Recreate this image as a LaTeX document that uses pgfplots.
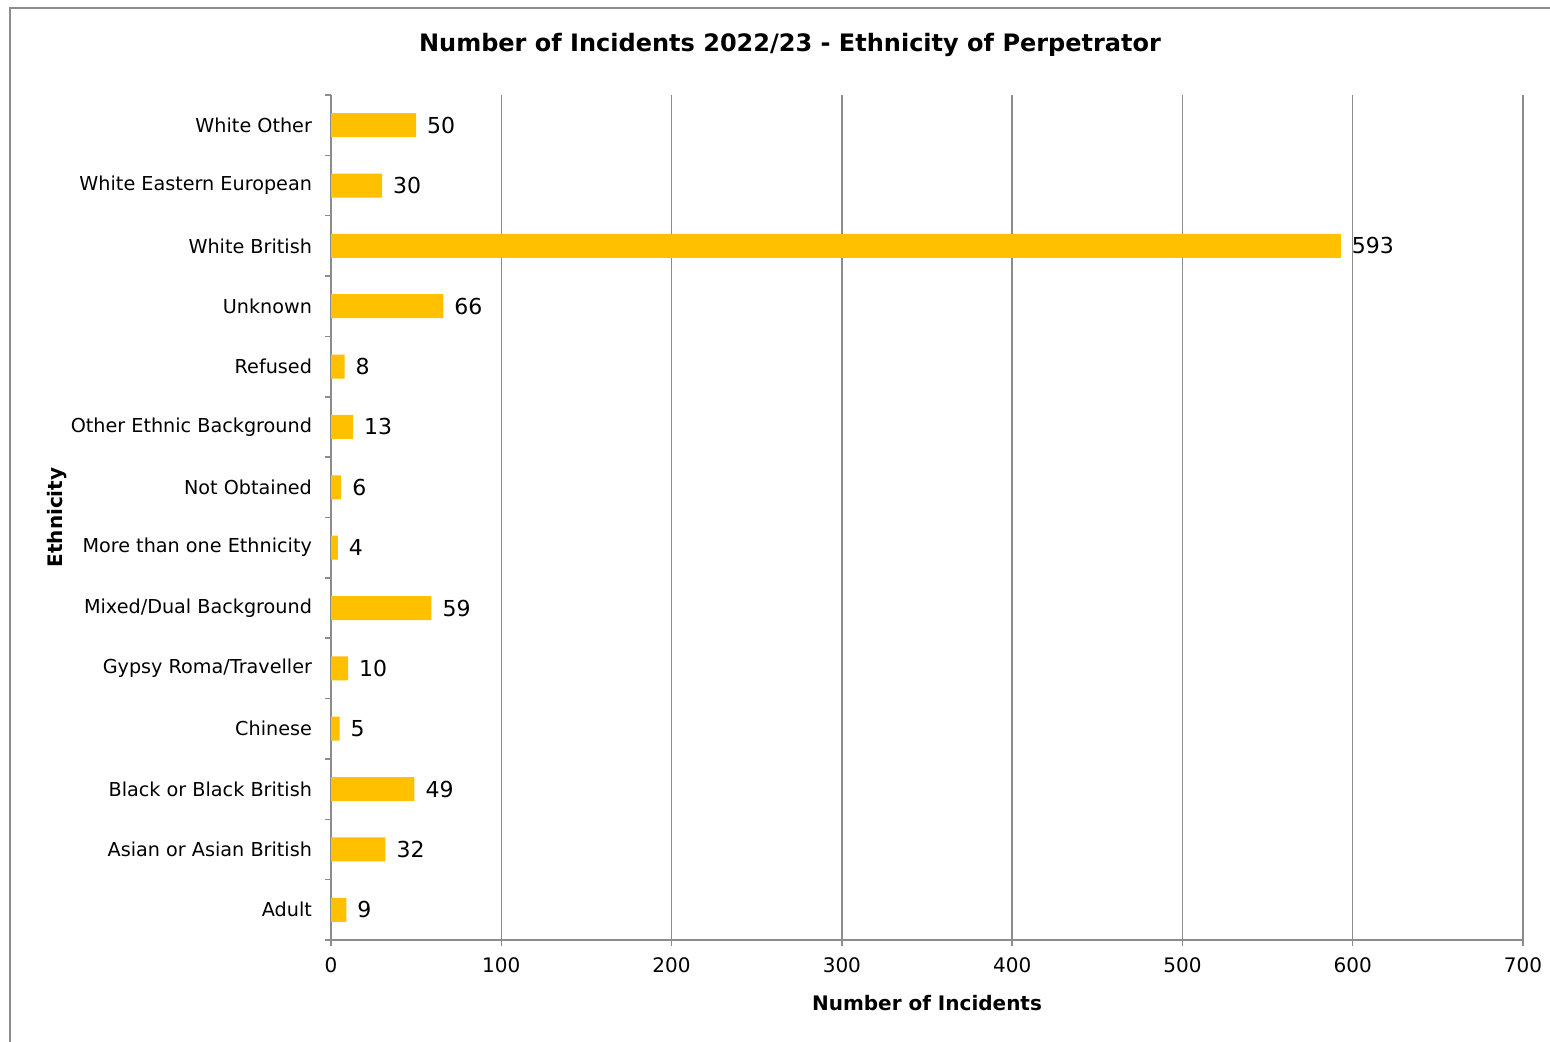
\documentclass[border=0pt]{standalone}
\usepackage{pgfplots}
\pgfplotsset{compat=1.18}
\usepackage{fontspec}
\setmainfont{DejaVu Sans}
\definecolor{baryellow}{HTML}{FFC000}
\definecolor{gridgray}{HTML}{8C8C8C}
\begin{document}
\begin{tikzpicture}[x=0.5pt,y=0.5pt]
\useasboundingbox (0,0) rectangle (1550,1042);
\draw[gridgray, line width=1pt] (10,-5) -- (10,1034) -- (1560,1034);
\node[font=\bfseries\fontsize{12}{14}\selectfont] at (790,997) {Number of Incidents 2022/23 - Ethnicity of Perpetrator};
\begin{axis}[
  at={(165.5pt,51pt)}, anchor=south west,
  scale only axis, width=596pt, height=422.5pt,
  xbar, bar width=12pt,
  xmin=0, xmax=700, ymin=-0.5, ymax=13.5,
  xtick={0,100,...,700},
  ytick={0,...,13},
  yticklabels={Adult,Asian or Asian British,Black or Black British,Chinese,Gypsy Roma/Traveller,Mixed/Dual Background,More than one Ethnicity,Not Obtained,Other Ethnic Background,Refused,Unknown,White British,White Eastern European,White Other},
  minor ytick={-0.5,0.5,...,13.5},
  axis x line*=bottom, axis y line*=left,
  axis line style={gridgray, line width=0.75pt, -},
  xmajorgrids, major grid style={gridgray, line width=0.75pt},
  tick align=outside,
  tick style={gridgray, line width=0.75pt},
  major tick length=3pt, minor tick length=3pt,
  ytick style={draw=none},
  minor y tick style={draw=gridgray},
  xticklabel style={font=\fontsize{10}{12}\selectfont, yshift=-2.5pt},
  yticklabel style={font=\fontsize{9.6}{12}\selectfont, xshift=-3pt},
  /pgf/number format/assume math mode=true,
  xlabel={\bfseries Number of Incidents},
  ylabel={\bfseries Ethnicity},
  label style={font=\bfseries\fontsize{10}{12}\selectfont},
  xlabel style={yshift=-4pt},
  ylabel style={at={(axis description cs:-0.2299,0.5)}, anchor=center, rotate=0},
  nodes near coords,
  nodes near coords style={font=\fontsize{11}{13}\selectfont, xshift=2pt, anchor=west, /pgf/number format/assume math mode=true},
  clip=false,
]
\addplot[fill=baryellow, draw=none] coordinates {
(9,0) (32,1) (49,2) (5,3) (10,4) (59,5) (4,6) (6,7) (13,8) (8,9) (66,10) (593,11) (30,12) (50,13)};
\end{axis}
\end{tikzpicture}
\end{document}
